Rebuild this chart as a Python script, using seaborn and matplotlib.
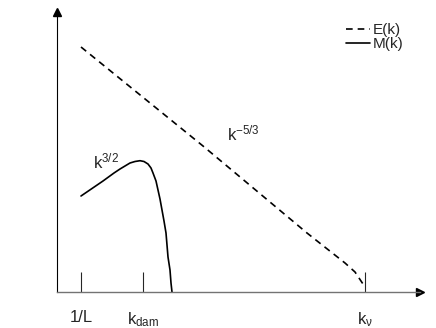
import numpy as np
import pandas as pd
import seaborn as sns
import matplotlib
from matplotlib import pyplot as plt

# schematic spectra, arbitrary units (origin at the axes corner)
e_k = [24, 146, 250, 288, 298, 306, 308]
e_val = [245, 146, 59, 29, 20, 8, 6]
m_k = [24, 35, 46, 57, 63, 68, 73, 78, 83, 87, 91, 94, 96, 99, 101, 103,
       105, 107, 109, 110, 111, 113, 114, 115]
m_val = [96, 103.5, 111, 119, 123, 126, 129, 130.5, 131.3, 130.5, 128, 124,
         119, 111, 102, 93, 82, 71, 59, 47, 35, 22, 9, 0]

tick_pos = [24, 86, 308]
tick_labels = ['1/L', r'k$_{\mathrm{dam}}$', r'k$_{\nu}$']

sns.set_style("white")
plt.rcParams['font.family'] = ['Liberation Sans', 'DejaVu Sans']
plt.rcParams['mathtext.fontset'] = 'custom'
plt.rcParams['mathtext.rm'] = 'Liberation Sans'
plt.rcParams['mathtext.it'] = 'Liberation Sans:italic'
plt.rcParams['mathtext.default'] = 'rm'

df = pd.concat([
    pd.DataFrame({'k': e_k, 'spec': e_val, 'curve': 'E(k)'}),
    pd.DataFrame({'k': m_k, 'spec': m_val, 'curve': 'M(k)'}),
])

fig = plt.figure(figsize=(4.36, 3.28), dpi=100)
ax = fig.add_axes([57 / 436, 36 / 328, 363 / 436, 280 / 328])

sns.lineplot(data=df, x='k', y='spec', style='curve', style_order=['E(k)', 'M(k)'],
             dashes={'E(k)': (4, 3), 'M(k)': ''}, color='k', lw=1.2,
             estimator=None, sort=False, ax=ax)

ax.set_xlim(0, 363)
ax.set_ylim(0, 280)
ax.set_xlabel('')
ax.set_ylabel('')
ax.set_yticks([])
ax.set_xticks(tick_pos)
ax.set_xticklabels(tick_labels, fontsize=12)
ax.tick_params(axis='x', bottom=True, direction='in', length=14.4, width=0.8, pad=13)
tick_cols = ['k', '0.5', 'k']
for t, c in zip(ax.xaxis.get_major_ticks(), tick_cols):
    t.tick1line.set_color(c)

for s in ['top', 'right']:
    ax.spines[s].set_visible(False)
ax.spines['left'].set_color('k')
ax.spines['left'].set_linewidth(0.8)
ax.spines['bottom'].set_color('0.45')
ax.spines['bottom'].set_linewidth(1.0)

# arrow heads
ax.plot(1, 0, '>', color='k', ms=6, transform=ax.transAxes, clip_on=False)
ax.plot(0, 1, '^', color='k', ms=6, transform=ax.transAxes, clip_on=False)

ax.text(36, 124, r'k$^{3/2}$', fontsize=12, va='baseline')
ax.text(170, 152, r'k$^{-5/3}$', fontsize=12, va='baseline')

sns.move_legend(ax, 'upper left', bbox_to_anchor=(346 / 436, 1 - 23 / 328),
                bbox_transform=fig.transFigure, title=None, frameon=False,
                fontsize=11, handlelength=1.57, handletextpad=0.15,
                labelspacing=0, borderpad=0, borderaxespad=0)

plt.savefig('out.png', dpi=100)
